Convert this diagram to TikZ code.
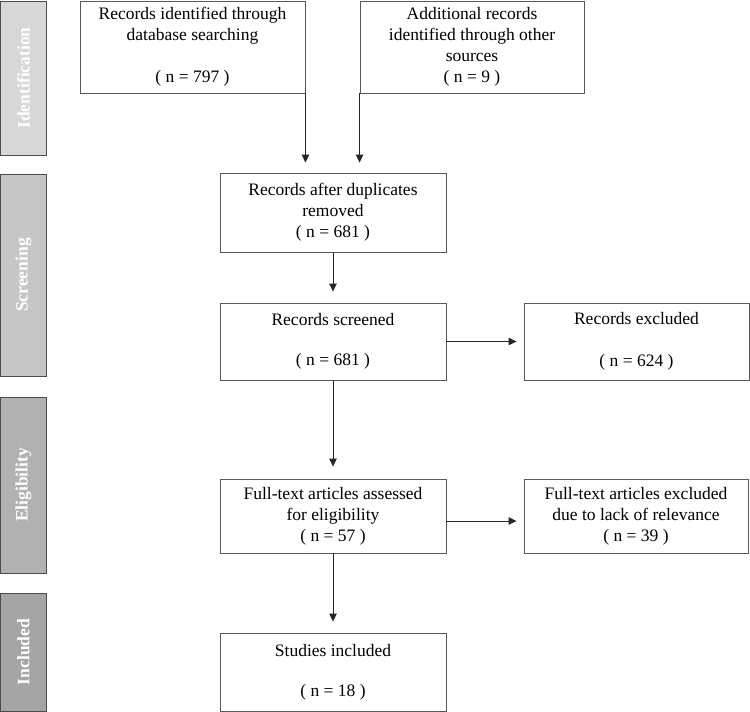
\documentclass[tikz,border=0pt]{standalone}
\usepackage{fontspec}
\setmainfont{Liberation Serif}
\usetikzlibrary{arrows.meta}
\definecolor{identgray}{HTML}{D7D7D7}
\definecolor{screengray}{HTML}{C6C6C6}
\definecolor{eliggray}{HTML}{B1B1B1}
\definecolor{inclgray}{HTML}{A5A5A5}
\tikzset{
  box/.style={draw=black!65, line width=0.9pt, align=center, inner sep=0pt,
    font=\fontsize{17.5}{21}\selectfont},
  phase/.style={draw=black!70, line width=1pt, rotate=90, inner sep=0pt,
    minimum height=45.5pt, text=white, font=\fontsize{17.5}{21}\selectfont\bfseries},
  flow/.style={draw=black!85, line width=0.9pt, -{Triangle[length=8pt,width=7.5pt]}}
}
\begin{document}
\begin{tikzpicture}[x=1pt,y=-1pt]
      \useasboundingbox (0,0) rectangle (750,712);
      % phase bars on the left
      \foreach \name/\y/\len/\col/\txt in {ident/78/154/identgray/Identification,
          screen/275/202/screengray/Screening, elig/485/176/eliggray/Eligibility,
          incl/652/118/inclgray/Included}
        \node[phase, fill=\col, minimum width=\len pt] (\name) at (23.5,\y) {\txt};
      \node[box, minimum width=225pt, minimum height=92pt] (db) at (192.5,47)
        {Records identified through\\ database searching\\[21pt] ( n = 797 )};
      \node[box, minimum width=224pt, minimum height=92pt] (other) at (472,47)
        {Additional records\\ identified through other\\ sources\\ ( n = 9 )};
      \node[box, minimum width=226pt, minimum height=79pt] (dup) at (333,212.5)
        {Records after duplicates\\ removed\\ ( n = 681 )};
      \node[box, minimum width=226pt, minimum height=77pt] (scr) at (333,341.5)
        {Records screened\\[19pt] ( n = 681 )};
      \node[box, minimum width=225pt, minimum height=77pt] (excl) at (636.5,341.5)
        {Records excluded\\[21pt] ( n = 624 )};
      \node[box, minimum width=226pt, minimum height=74pt] (full) at (333,516)
        {Full-text articles assessed\\ for eligibility\\ ( n = 57 )};
      \node[box, minimum width=224pt, minimum height=74pt] (exclft) at (636,516)
        {Full-text articles excluded\\ due to lack of relevance\\ ( n = 39 )};
      \node[box, minimum width=226pt, minimum height=78pt] (stud) at (333,672)
        {Studies included\\[19pt] ( n = 18 )};
      \draw[flow, shorten >=10pt] (db.south east) -- (db.south east |- dup.north);
      \draw[flow, shorten >=10pt] (other.south west) -- (other.south west |- dup.north);
      \draw[flow, shorten >=11pt] (dup) -- (scr);
      \draw[flow, shorten >=12pt] (scr) -- (full);
      \draw[flow, shorten >=11pt] (full) -- (stud);
      \draw[flow, shorten >=7pt] (scr) -- (excl);
      \draw[flow, shorten >=7pt] ([yshift=-5pt]full.east) -- ([yshift=-5pt]exclft.west);
    \end{tikzpicture}
\end{document}
